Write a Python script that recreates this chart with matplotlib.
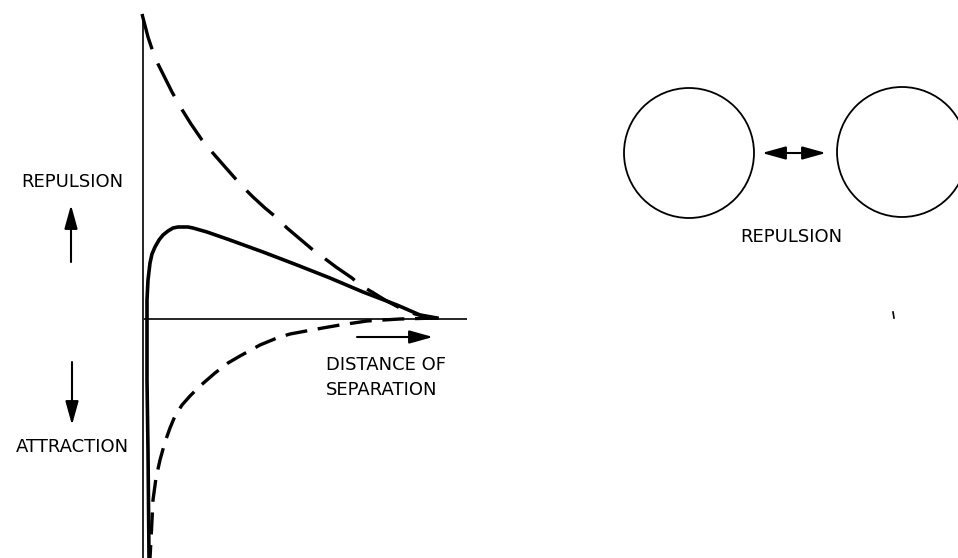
import matplotlib
matplotlib.use("Agg")
import matplotlib.pyplot as plt
from matplotlib.patches import Circle, FancyArrowPatch

# --- data (pixel-space coordinates of the hand-drawn curves) ---
axis_x = [143, 143]
axis_y = [14, 558]
zero_x = [144, 467]
zero_y = [319, 319]

repulsion_x = [142, 148, 154, 158, 165, 172, 181, 191, 202, 212, 226, 241, 253, 265, 277,
               287, 300, 313, 320, 336, 352, 360, 372, 385, 400, 415, 433]
repulsion_y = [14, 37, 55, 64, 78, 92, 108, 124, 140, 152, 168, 185, 197, 208, 218,
               228, 239, 250, 255, 267, 278, 285, 292, 300, 308, 314, 318]

net_x = [149, 148, 147, 147, 147, 148, 150, 152, 155, 159, 163, 168, 173, 178, 183, 188, 193,
         200, 207, 230, 263, 297, 330, 363, 397, 420, 437]
net_y = [558, 450, 380, 330, 300, 280, 263, 254, 247, 240, 235, 231, 228, 227, 227, 227, 228,
         230, 232, 240, 252, 265, 278, 292, 305, 315, 318]

attraction_x = [437, 400, 367, 340, 317, 290, 277, 260, 240, 228, 215, 200, 190, 182, 175, 170,
                165, 160, 156, 153, 152, 151, 150]
attraction_y = [318, 319, 321, 325, 329, 334, 338, 345, 356, 363, 373, 386, 396, 405, 416, 428,
                442, 460, 478, 500, 520, 540, 558]

circle_cx = [689, 902]
circle_cy = [153, 152]
circle_r = 65

labels_left = ["REPULSION", "ATTRACTION"]
label_dist = ["DISTANCE OF", "SEPARATION"]
label_right = "REPULSION"

fig = plt.figure(figsize=(9.58, 5.58), dpi=100)
ax = fig.add_axes([0, 0, 1, 1])
ax.set_xlim(0, 958)
ax.set_ylim(558, 0)
ax.axis("off")

ink = "black"
ax.plot(axis_x, axis_y, color=ink, lw=1.2, solid_capstyle="butt")
ax.plot(zero_x, zero_y, color=ink, lw=1.2, solid_capstyle="butt")

ax.plot(repulsion_x, repulsion_y, color=ink, lw=2.4, dashes=(11.0, 4.6))
ax.plot(net_x, net_y, color=ink, lw=2.6, solid_joinstyle="round")
ax.plot(attraction_x, attraction_y, color=ink, lw=2.4, dashes=(6.6, 3.2))

def arrow(x0, y0, x1, y1, both=False):
    style = "<|-|>" if both else "-|>"
    a = FancyArrowPatch((x0, y0), (x1, y1),
                        arrowstyle=f"{style},head_length=7.2,head_width=2.0",
                        color=ink, lw=1.5, shrinkA=0, shrinkB=0, mutation_scale=2)
    ax.add_patch(a)

arrow(71, 262, 71, 205)
arrow(72, 362, 72, 425)
arrow(357, 337, 433, 337)
arrow(762, 153, 826, 153, both=True)

fs = 13
fam = "DejaVu Sans"
ax.text(72, 182, labels_left[0], ha="center", va="center", fontsize=fs, family=fam)
ax.text(72, 447, labels_left[1], ha="center", va="center", fontsize=fs, family=fam)
ax.text(326, 365, label_dist[0], ha="left", va="center", fontsize=fs, family=fam)
ax.text(326, 390, label_dist[1], ha="left", va="center", fontsize=fs, family=fam)
ax.text(791, 237, label_right, ha="center", va="center", fontsize=fs, family=fam)

for cx, cy in zip(circle_cx, circle_cy):
    ax.add_patch(Circle((cx, cy), circle_r, fill=False, ec=ink, lw=1.3))

# small stray mark from the scan
ax.plot([893, 894], [312, 318], color=ink, lw=1.2)

fig.savefig("out.png", dpi=100, facecolor="white")
